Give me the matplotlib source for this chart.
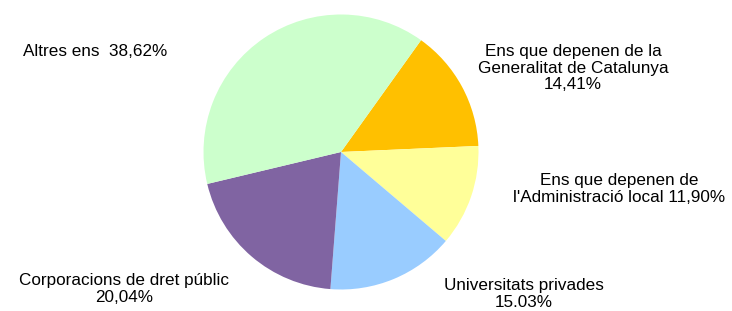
import matplotlib
matplotlib.use("Agg")
import matplotlib.pyplot as plt

categories = ["Ens que depenen de la Generalitat de Catalunya",
              "Ens que depenen de l'Administració local",
              "Universitats privades",
              "Corporacions de dret públic",
              "Altres ens"]
values = [14.41, 11.90, 15.03, 20.04, 38.62]
colors = ["#FFC000", "#FFFF99", "#99CCFF", "#8064A2", "#CCFFCC"]
label_texts = ["Ens que depenen de la\nGeneralitat de Catalunya\n14,41%",
               "Ens que depenen de\nl'Administració local 11,90%",
               "Universitats privades\n15.03%",
               "Corporacions de dret públic\n20,04%",
               "Altres ens  38,62%"]

plt.rcParams['font.family'] = ['Liberation Sans', 'DejaVu Sans']

W, H = 732, 311
fig = plt.figure(figsize=(W / 100, H / 100), dpi=100)
fig.patch.set_facecolor("white")

cx, cy, r = 341, 152, 137.5
ax = fig.add_axes([(cx - r) / W, (H - cy - r) / H, 2 * r / W, 2 * r / H])
ax.pie(values, colors=colors, startangle=54.4, counterclock=False,
       radius=1, wedgeprops=dict(linewidth=0))
ax.set_xlim(-1, 1)
ax.set_ylim(-1, 1)
ax.set_axis_off()

# label positions in pixels (x, y, ha)
pos = [(573, 68, "center"),
       (619, 189, "center"),
       (524, 294, "center"),
       (124, 289, "center"),
       (23, 51, "left")]
for txt, (px, py, ha) in zip(label_texts, pos):
    fig.text(px / W, 1 - py / H, txt, ha=ha, va="center", ma="center",
             fontsize=12.3, color="black", linespacing=1.15)

fig.savefig("out.png", dpi=100)
